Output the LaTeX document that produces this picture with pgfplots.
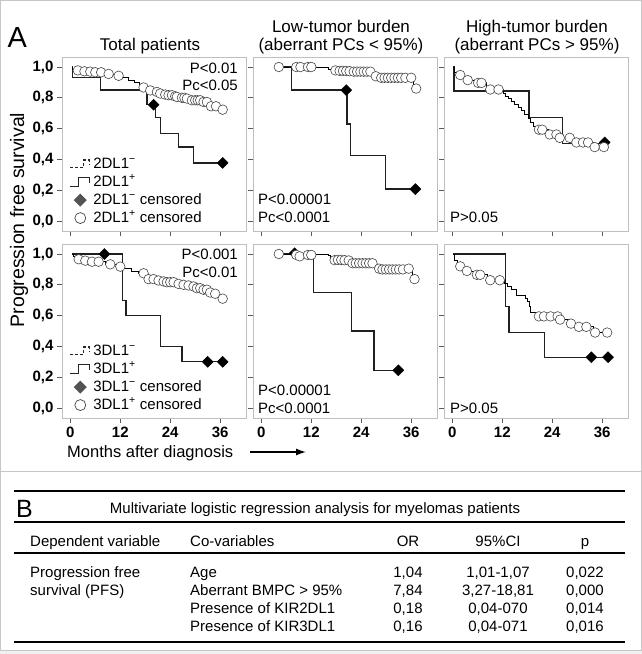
\documentclass[border=0pt]{standalone}
\usepackage{fontspec}
\setmainfont{Liberation Sans}
\usepackage{pgfplots}
\pgfplotsset{compat=1.18}
\usetikzlibrary{arrows.meta}
\newcommand{\fs}[1]{\fontsize{#1}{#1}\selectfont}
\pgfplotsset{
 km/.style={
  scale only axis, width=184pt, height=174pt,
  xmin=-2, xmax=42.2, ymin=-0.065, ymax=1.065,
  axis line style={draw=gray!50, line width=0.9pt},
  xtick={0,12,24,36}, ytick={0,0.2,0.4,0.6,0.8,1},
  tick align=outside, xtick pos=bottom, ytick pos=left,
  major tick length=5pt,
  tick style={draw=gray!70!black, line width=0.8pt},
  xticklabels={}, yticklabels={},
  tick label style={font=\fs{15}\bfseries},
  clip=false,
 },
 ylab/.style={yticklabels={{0,0},{0,2},{0,4},{0,6},{0,8},{1,0}}},
 xlab/.style={xticklabels={0,12,24,36}},
 up/.style={const plot, black, line width=0.8pt, forget plot},
 lo/.style={const plot, gray!25!black, line width=1.3pt, forget plot},
 cens/.style={only marks, mark=*, mark size=4.8pt, mark options={fill=white, draw=gray!55!black, line width=0.6pt}, forget plot},
 dia/.style={only marks, mark=square*, mark size=3.9pt, mark options={rotate=45, fill=black, draw=black}, forget plot},
 kmleg/.style={legend style={at={(0.04,0.033)}, anchor=south west, draw=none, fill=none, inner sep=0pt, font=\fs{15}, row sep=4pt, nodes={inner sep=0pt, text height=11pt, text depth=3pt}}, legend cell align=left},
}
\newcommand{\legimgs}[1]{%
 \addlegendimage{legend image code/.code={\draw[gray!30!black, line width=1.5pt, dash pattern=on 3pt off 2pt] (0pt,-3.5pt) -- (13pt,-3.5pt) -- (13pt,4pt) -- (19pt,4pt) -- (19pt,0pt); \path[draw=none] (0pt,0pt) -- (23pt,0pt);}}
 \addlegendentry{#1\textsuperscript{−}}
 \addlegendimage{legend image code/.code={\draw[gray!30!black, line width=1.5pt] (0pt,-4.5pt) -- (8pt,-4.5pt) -- (8pt,4.5pt) -- (19pt,4.5pt) -- (19pt,-1pt); \path[draw=none] (0pt,0pt) -- (23pt,0pt);}}
 \addlegendentry{#1\textsuperscript{+}}
 \addlegendimage{legend image code/.code={\fill[gray!65!black, draw=none] (10pt,-6.5pt) -- (16.5pt,0pt) -- (10pt,6.5pt) -- (3.5pt,0pt) -- cycle; \path[draw=none] (0pt,0pt) -- (23pt,0pt);}}
 \addlegendentry{#1\textsuperscript{−} censored}
 \addlegendimage{legend image code/.code={\filldraw[fill=white, draw=gray!55!black, line width=0.7pt] (10pt,0pt) circle (5.5pt); \path[draw=none] (0pt,0pt) -- (23pt,0pt);}}
 \addlegendentry{#1\textsuperscript{+} censored}
}
\begin{document}
\begin{tikzpicture}[x=1pt,y=1pt]
\path[use as bounding box] (0,0) rectangle (642,-654);
\fill[gray!12] (0,-650) rectangle (642,-654);
\draw[gray!45, line width=1pt] (0.5,-0.5) rectangle (641.5,-650);
\draw[gray!45, line width=1pt] (0,-471) -- (642,-471);

% ---------- Panel 1: total, 2DL1
\begin{axis}[km, ylab, kmleg, at={(62pt,-231pt)}, anchor=south west]
\legimgs{2DL1}
\addplot[lo] coordinates {(0.3,1)(0.5,0.93)(7.2,0.85)(18.4,0.755)(20.4,0.67)(21.6,0.57)(26,0.48)(29.6,0.377)(36.6,0.377)};
\addplot[up] coordinates {(0.3,1)(0.6,0.985)(1.5,0.978)(3,0.972)(5.5,0.966)(8.2,0.955)(10.5,0.943)(12.6,0.93)(14,0.915)(15.3,0.9)(16.5,0.885)(17.3,0.867)(18.8,0.848)(20.2,0.838)(21.3,0.828)(22.4,0.821)(25,0.806)(26.4,0.8)(27.6,0.795)(28.8,0.784)(31.6,0.773)(33.4,0.745)(35.8,0.723)(36.6,0.723)};
\addplot[dia] coordinates {(20,0.755)(36.6,0.377)};
\addplot[cens] coordinates {(1.8,0.978)(3.4,0.972)(4.8,0.970)(6.0,0.966)(7.4,0.966)(9.2,0.955)(11.6,0.943)(17.6,0.867)(19.2,0.848)(20.8,0.838)(21.6,0.828)(22.8,0.821)(23.6,0.817)(24.4,0.817)(25.2,0.81)(25.6,0.806)(26.8,0.8)(27.4,0.8)(28.0,0.795)(29.2,0.784)(30.0,0.784)(30.6,0.784)(31.2,0.784)(32.0,0.773)(32.8,0.773)(33.8,0.745)(35.0,0.745)(36.6,0.723)};
\end{axis}

% ---------- Panel 2: low, 2DL1
\begin{axis}[km, at={(253pt,-231pt)}, anchor=south west]
\addplot[lo] coordinates {(4.2,1)(7.2,0.85)(20.6,0.63)(21.4,0.425)(29.9,0.207)(37,0.207)};
\addplot[up] coordinates {(4.2,1)(16,0.985)(17.2,0.975)(22,0.97)(27,0.94)(28.6,0.93)(36.6,0.86)(37.2,0.86)};
\addplot[dia] coordinates {(20.4,0.85)(37,0.207)};
\addplot[cens] coordinates {(4.2,1)(8.4,1)(9.4,1)(11.2,1)(12.0,1)(17.8,0.978)(18.8,0.975)(19.6,0.975)(20.4,0.974)(21.2,0.973)(22.2,0.97)(23.0,0.97)(23.8,0.97)(24.6,0.97)(25.4,0.97)(26.2,0.97)(27.5,0.94)(28.8,0.93)(29.6,0.93)(30.4,0.93)(31.2,0.93)(32.0,0.93)(32.8,0.93)(33.6,0.93)(34.6,0.93)(36.0,0.93)(37.2,0.86)};
\end{axis}

% ---------- Panel 3: high, 2DL1
\begin{axis}[km, at={(444pt,-231pt)}, anchor=south west]
\addplot[lo] coordinates {(0.2,1)(0.4,0.845)(18.4,0.67)(26.5,0.505)(36.6,0.505)};
\addplot[up] coordinates {(0.2,1)(0.4,0.965)(1.2,0.948)(3,0.915)(5.2,0.897)(8.2,0.854)(12.2,0.83)(12.8,0.81)(13.5,0.795)(14.2,0.775)(15,0.755)(15.8,0.735)(16.6,0.715)(17.4,0.69)(18.2,0.665)(18.8,0.64)(19.4,0.615)(20.2,0.593)(23,0.562)(25.5,0.54)(29.2,0.51)(33.8,0.48)(36.4,0.48)};
\addplot[dia] coordinates {(36.6,0.51)};
\addplot[cens] coordinates {(1.9,0.948)(3.7,0.915)(6.2,0.897)(7.0,0.897)(9.1,0.854)(11.1,0.854)(20.8,0.593)(21.6,0.593)(23.4,0.562)(25.0,0.562)(25.8,0.54)(28.2,0.54)(29.8,0.51)(31.4,0.51)(32.6,0.51)(34.2,0.48)(36.4,0.48)};
\end{axis}

% ---------- Panel 4: total, 3DL1
\begin{axis}[km, ylab, xlab, kmleg, at={(62pt,-418pt)}, anchor=south west]
\legimgs{3DL1}
\addplot[lo] coordinates {(0.4,1)(12.6,0.70)(13.4,0.60)(21.6,0.40)(26.8,0.30)(36.6,0.30)};
\addplot[up] coordinates {(0.3,1)(0.8,0.985)(1.4,0.966)(3.2,0.957)(4.6,0.95)(8.4,0.933)(11,0.918)(13,0.905)(14.6,0.89)(16.4,0.875)(18.4,0.837)(20.6,0.828)(22,0.822)(22.8,0.817)(25.6,0.806)(26.8,0.8)(28,0.796)(29,0.789)(30,0.778)(31.6,0.768)(33.2,0.75)(34.4,0.742)(35.8,0.71)(36.6,0.71)};
\addplot[dia] coordinates {(8.2,1)(33,0.30)(36.6,0.30)};
\addplot[cens] coordinates {(2.0,0.966)(3.6,0.957)(5.2,0.95)(6.8,0.95)(9.6,0.933)(12.0,0.918)(17.6,0.875)(18.8,0.837)(20.0,0.837)(21.2,0.828)(22.4,0.822)(23.2,0.817)(24.0,0.817)(24.8,0.817)(26.0,0.806)(27.2,0.8)(28.4,0.796)(29.6,0.789)(30.4,0.778)(31.2,0.778)(32.0,0.768)(32.8,0.768)(33.6,0.75)(34.8,0.742)(36.6,0.71)};
\end{axis}

% ---------- Panel 5: low, 3DL1
\begin{axis}[km, xlab, at={(253pt,-418pt)}, anchor=south west]
\addplot[lo] coordinates {(4.2,1)(12.5,0.75)(21.6,0.50)(27.1,0.245)(32.9,0.245)};
\addplot[up] coordinates {(4.2,1)(16,0.99)(16.5,0.96)(21.4,0.94)(27.6,0.90)(36.3,0.837)(36.8,0.837)};
\addplot[dia] coordinates {(8,1.005)(32.9,0.245)};
\addplot[cens] coordinates {(4.2,1)(8.4,0.994)(9.2,0.985)(11.2,0.994)(12,0.994)(17.6,0.96)(18.4,0.962)(19.2,0.962)(20,0.96)(21,0.958)(21.9,0.94)(22.7,0.94)(23.5,0.94)(24.3,0.94)(25.1,0.94)(25.9,0.94)(26.7,0.94)(28.3,0.905)(29.1,0.9)(29.9,0.9)(30.7,0.9)(31.5,0.9)(32.3,0.9)(33.1,0.9)(34,0.9)(35.4,0.905)(36.8,0.837)};
\end{axis}

% ---------- Panel 6: high, 3DL1
\begin{axis}[km, xlab, at={(444pt,-418pt)}, anchor=south west]
\addplot[lo] coordinates {(0.2,1)(12.8,0.66)(13.6,0.49)(22.2,0.33)(37.4,0.33)};
\addplot[up] coordinates {(0.2,1)(0.5,0.96)(1.3,0.92)(3,0.89)(5,0.865)(8.4,0.83)(12.5,0.81)(13.2,0.79)(14.2,0.768)(15.3,0.73)(17.6,0.715)(18,0.69)(18.4,0.66)(18.8,0.62)(20.3,0.595)(25.6,0.574)(27.8,0.548)(29.8,0.527)(33.8,0.49)(37.2,0.49)};
\addplot[dia] coordinates {(33.4,0.33)(37.4,0.33)};
\addplot[cens] coordinates {(1.9,0.92)(3.5,0.89)(5.9,0.865)(6.7,0.865)(9.1,0.83)(11.4,0.83)(20.8,0.595)(22.0,0.595)(23.6,0.595)(25.3,0.595)(25.9,0.574)(28.5,0.548)(30.4,0.527)(32.2,0.527)(34.3,0.49)(37.2,0.49)};
\end{axis}

% ---------- texts of panel A
\node[font=\fs{29}, anchor=base west] at (4,-47) {A};
\node[font=\fs{17}, anchor=base] at (150,-50) {Total patients};
\node[font=\fs{17}, anchor=base] at (341,-32) {Low-tumor burden};
\node[font=\fs{17}, anchor=base] at (341,-50) {(aberrant PCs < 95\%)};
\node[font=\fs{17}, anchor=base] at (537,-32) {High-tumor burden};
\node[font=\fs{17}, anchor=base] at (537,-50) {(aberrant PCs > 95\%)};
\node[font=\fs{19.5}, rotate=90] at (19,-220) {Progression free survival};
\begin{scope}[every node/.style={font=\fs{15}, inner sep=0pt}]
\node[anchor=base east] at (238,-73.5) {P<0.01};
\node[anchor=base east] at (238,-90.5) {Pc<0.05};
\node[anchor=base west] at (258,-204.5) {P<0.00001};
\node[anchor=base west] at (258,-222) {Pc<0.0001};
\node[anchor=base west] at (450,-222.5) {P>0.05};
\node[anchor=base east] at (238,-259.5) {P<0.001};
\node[anchor=base east] at (238,-277.5) {Pc<0.01};
\node[anchor=base west] at (258,-395.5) {P<0.00001};
\node[anchor=base west] at (258,-413.5) {Pc<0.0001};
\node[anchor=base west] at (450,-413.5) {P>0.05};
\end{scope}
\node[font=\fs{16.5}, anchor=base west, inner sep=0pt] at (67,-457) {Months after diagnosis};
\draw[line width=1.3pt, -{Latex[length=10pt,width=7pt]}] (250,-452) -- (306,-452);

% ---------- table B
\draw[line width=1.8pt] (14,-491) -- (625,-491);
\draw[line width=1.8pt] (14,-522) -- (625,-522);
\draw[line width=1.8pt] (14,-553) -- (625,-553);
\draw[line width=1.8pt] (14,-642) -- (625,-642);
\node[font=\fs{25}, anchor=base west, inner sep=0pt] at (16,-517) {B};
\begin{scope}[every node/.style={font=\fs{15}, inner sep=0pt}]
\node[anchor=base] at (315,-513) {Multivariate logistic regression analysis for myelomas patients};
\node[anchor=base west] at (30,-546) {Dependent variable};
\node[anchor=base west] at (190,-546) {Co-variables};
\node[anchor=base] at (408,-546) {OR};
\node[anchor=base] at (498,-546) {95\%CI};
\node[anchor=base] at (585,-546) {p};
\node[anchor=base west] at (30,-577) {Progression free};
\node[anchor=base west] at (30,-595) {survival (PFS)};
\node[anchor=base west] at (190,-577) {Age};
\node[anchor=base west] at (190,-595) {Aberrant BMPC > 95\%};
\node[anchor=base west] at (190,-613) {Presence of KIR2DL1};
\node[anchor=base west] at (190,-631.5) {Presence of KIR3DL1};
\node[anchor=base] at (408,-577) {1,04};
\node[anchor=base] at (408,-595) {7,84};
\node[anchor=base] at (408,-613) {0,18};
\node[anchor=base] at (408,-631.5) {0,16};
\node[anchor=base] at (498,-577) {1,01-1,07};
\node[anchor=base] at (498,-595) {3,27-18,81};
\node[anchor=base] at (498,-613) {0,04-070};
\node[anchor=base] at (498,-631.5) {0,04-071};
\node[anchor=base] at (585,-577) {0,022};
\node[anchor=base] at (585,-595) {0,000};
\node[anchor=base] at (585,-613) {0,014};
\node[anchor=base] at (585,-631.5) {0,016};
\end{scope}
\end{tikzpicture}
\end{document}
